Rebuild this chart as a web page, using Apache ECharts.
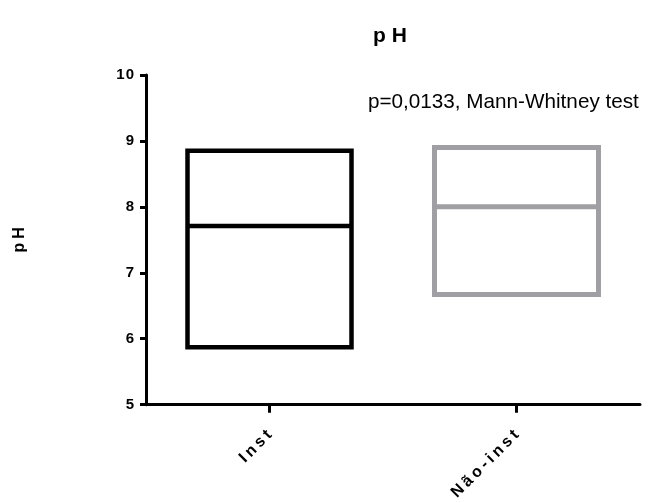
<!DOCTYPE html>
<html>
<head>
<meta charset="utf-8">
<script src="https://cdn.jsdelivr.net/npm/echarts@6/dist/echarts.min.js"></script>
<style>
html,body{margin:0;padding:0;background:#fff;}
#chart{width:652px;height:503px;}
</style>
</head>
<body>
<div id="chart"></div>
<script>
// Data
var categories = ['Inst', 'Não-inst'];
// [min, q1, median, q3, max] (floating bar min..max with line at median)
var instValues = [5.87, 5.87, 7.71, 8.85, 8.85];
var naoInstValues = [6.67, 6.67, 8.00, 8.90, 8.90];
var yTicks = [5, 6, 7, 8, 9, 10];
var titleText = 'pH';
var yAxisName = 'pH';
var annotationText = 'p=0,0133, Mann-Whitney test';

var FONT = "'Liberation Sans', Arial, Helvetica, sans-serif";

// letter-spaced text via rich tokens (text content unchanged)
function spaced(str) {
  var chars = Array.from(String(str));
  return chars.map(function (c, i) {
    return '{' + (i < chars.length - 1 ? 'a' : 'b') + '|' + c + '}';
  }).join('');
}
function richStyle(size, gap) {
  var base = {fontFamily: FONT, fontSize: size, fontWeight: 'bold', color: '#000'};
  var a = Object.assign({}, base, {padding: [0, gap, 0, 0]});
  var b = Object.assign({}, base);
  return {a: a, b: b};
}

var chart = echarts.init(document.getElementById('chart'), null, {renderer: 'canvas'});
var option = {
  backgroundColor: '#ffffff',
  animation: false,
  title: {
    text: spaced(titleText),
    left: 385,
    top: 21,
    textAlign: 'center',
    textStyle: {fontFamily: FONT, fontSize: 21, fontWeight: 'bold', color: '#000', rich: richStyle(21, 6)}
  },
  grid: {left: 146, right: 12, top: 75, bottom: 98, containLabel: false},
  xAxis: {
    type: 'category',
    data: categories,
    boundaryGap: true,
    axisLine: {lineStyle: {color: '#000', width: 3}},
    axisTick: {show: true, alignWithLabel: true, length: 8, lineStyle: {color: '#000', width: 3}},
    axisLabel: {
      rotate: 45, margin: 28, color: '#000',
      fontFamily: FONT, fontSize: 16, fontWeight: 'bold',
      formatter: function (v) { return spaced(v); },
      rich: richStyle(16, 3.5)
    },
    splitLine: {show: false}
  },
  yAxis: {
    type: 'value',
    min: yTicks[0],
    max: yTicks[yTicks.length - 1],
    interval: 1,
    name: spaced(yAxisName),
    nameLocation: 'middle',
    nameGap: 118,
    nameRotate: 90,
    nameTextStyle: {fontFamily: FONT, fontSize: 16, fontWeight: 'bold', color: '#000', rich: richStyle(16, 4)},
    axisLine: {show: true, lineStyle: {color: '#000', width: 3}},
    axisTick: {show: true, length: 6, lineStyle: {color: '#000', width: 3}},
    axisLabel: {
      margin: 12, color: '#000',
      fontFamily: FONT, fontSize: 15, fontWeight: 'bold',
      formatter: function (v) { return spaced(v); },
      rich: richStyle(15, 1)
    },
    splitLine: {show: false}
  },
  graphic: [{
    type: 'text',
    left: 368,
    top: 92,
    style: {text: annotationText, font: '20.7px ' + FONT, fill: '#000'}
  }],
  series: [{
    type: 'boxplot',
    boxWidth: [164, 164],
    data: [
      {value: instValues, itemStyle: {color: '#fff', borderColor: '#000', borderWidth: 4.5}},
      {value: naoInstValues, itemStyle: {color: '#fff', borderColor: '#a0a0a4', borderWidth: 5}}
    ]
  }]
};
chart.setOption(option);
</script>
</body>
</html>
